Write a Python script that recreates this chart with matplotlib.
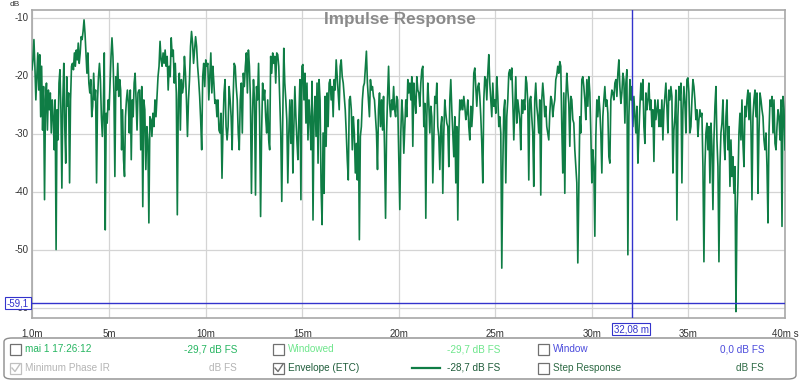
import numpy as np
import matplotlib
matplotlib.use('Agg')
import matplotlib.pyplot as plt
from matplotlib.patches import Rectangle, FancyBboxPatch

plt.rcParams['font.family'] = ['Liberation Sans', 'DejaVu Sans']

# ETC envelope (dB) in six stretches of time (ms)
seg_ms = [(1.00, 6.54), (6.58, 13.26), (13.31, 19.99),
          (20.05, 26.73), (26.78, 33.47), (33.52, 40.00)]

etc_1 = [-18.9, -17.2, -13.7, -18.3, -24.1, -20.1, -16.0, -22.4, -16.3, -27.0,
         -18.3, -29.3, -21.8, -41.3, -24.1, -21.2, -29.3, -22.4, -25.8, -22.9,
         -29.8, -24.1, -27.0, -32.7, -24.1, -49.9, -25.8, -31.0, -21.2, -18.9,
         -25.8, -39.3, -24.1, -17.8, -28.7, -35.0, -20.1, -25.2, -22.9, -38.4,
         -24.1, -18.3, -17.8, -18.9, -16.0, -18.3, -15.5, -17.2, -14.3, -17.8,
         -16.0, -13.2, -13.7, -12.3, -10.3, -12.6, -16.0, -19.5, -16.0, -21.2,
         -22.9, -20.6, -27.0, -25.2, -19.5, -24.1, -22.4, -38.4, -24.1, -20.1,
         -17.8, -20.6, -27.0, -30.4, -25.8, -16.0, -46.5, -26.4, -28.1, -24.1,
         -25.8, -21.2, -16.6, -13.4, -16.6, -22.9, -37.3, -20.1, -22.4, -17.8,
         -23.5, -20.6, -22.4, -32.7, -25.8, -34.4, -37.3, -27.0, -24.1, -22.4,
         -24.7, -29.8, -22.4, -34.4, -24.1, -27.0, -21.2, -19.5, -24.1, -29.3,
         -22.9, -22.4]

etc_2 = [-22.4, -32.7, -21.8, -42.5, -24.1, -25.8, -36.1, -28.7, -31.0, -45.3,
         -27.0, -27.5, -30.4, -26.4, -28.7, -24.1, -27.0, -23.5, -20.1, -18.3,
         -14.0, -17.2, -18.3, -16.0, -17.8, -15.5, -18.3, -16.6, -22.4, -18.3,
         -20.1, -13.4, -16.6, -15.5, -21.2, -17.8, -22.9, -43.9, -24.1, -19.5,
         -29.3, -20.6, -22.9, -21.8, -16.6, -19.5, -24.1, -30.4, -24.1, -20.6,
         -14.9, -12.3, -14.3, -17.8, -15.5, -13.2, -14.9, -18.3, -20.6, -23.5,
         -27.5, -32.7, -20.1, -17.8, -21.8, -17.2, -18.3, -17.8, -24.1, -20.1,
         -16.0, -22.9, -18.3, -21.2, -24.7, -24.1, -27.0, -24.1, -29.3, -29.8,
         -26.4, -37.6, -28.7, -22.9, -20.6, -28.7, -31.0, -28.7, -21.8, -24.1,
         -27.0, -32.7, -23.5, -17.8, -18.3, -21.8, -24.1, -29.8, -32.7, -24.1,
         -21.2, -29.8, -19.5, -21.8, -18.3, -16.0, -22.9, -15.5, -18.3, -24.1,
         -40.2, -27.0, -20.6, -24.1, -40.5, -21.8, -24.1, -17.8, -27.0, -44.2,
         -29.8, -21.2, -24.1, -22.4, -27.0, -29.8, -24.1, -31.0]

etc_3 = [-32.7, -16.6, -19.5, -16.0, -17.8, -16.6, -21.2, -16.0, -16.3, -18.3,
         -24.1, -29.8, -41.6, -27.0, -15.2, -21.2, -24.1, -27.5, -38.4, -29.8,
         -24.1, -31.6, -24.1, -36.7, -28.7, -21.8, -27.0, -31.0, -34.4, -27.0,
         -20.6, -41.3, -18.3, -18.0, -24.1, -19.5, -28.1, -21.2, -31.0, -24.1,
         -27.5, -32.7, -20.9, -44.8, -27.0, -23.5, -30.4, -21.2, -35.0, -20.6,
         -24.1, -39.0, -45.6, -29.8, -40.2, -23.5, -32.1, -22.9, -28.7, -21.2,
         -20.6, -24.1, -21.8, -27.0, -20.6, -22.4, -17.2, -20.1, -22.9, -25.8,
         -18.3, -17.2, -20.1, -21.2, -23.5, -25.8, -29.8, -34.4, -37.9, -24.1,
         -23.5, -25.8, -32.7, -27.0, -29.8, -36.7, -31.6, -37.9, -27.5, -48.2,
         -30.4, -28.7, -24.1, -21.8, -21.2, -18.3, -15.7, -21.2, -24.1, -27.0,
         -20.6, -22.4, -21.8, -23.5, -24.1, -27.0, -29.8, -36.1, -25.8, -22.9,
         -28.7, -24.1, -29.3, -23.5, -32.7, -44.5, -29.8, -23.5, -18.3, -24.7,
         -27.0, -24.1, -25.8, -21.8, -25.8, -27.0, -23.5, -24.1, -33.3]

etc_4 = [-43.0, -29.8, -24.1, -27.0, -33.3, -28.7, -24.1, -27.0, -20.6, -22.9,
         -21.2, -24.1, -20.1, -32.1, -21.2, -24.1, -26.4, -20.1, -22.4, -22.9,
         -25.2, -21.2, -18.9, -18.3, -28.7, -24.7, -44.5, -27.0, -21.2, -24.7,
         -29.8, -25.2, -27.0, -38.4, -31.0, -23.5, -24.7, -21.2, -28.7, -30.4,
         -36.1, -28.7, -27.0, -40.2, -29.8, -24.1, -26.4, -28.1, -28.7, -35.6,
         -24.1, -20.6, -25.8, -29.8, -33.9, -27.0, -38.4, -28.7, -44.8, -29.8,
         -24.1, -25.8, -24.1, -25.8, -23.5, -25.2, -27.5, -26.4, -24.1, -28.7,
         -31.0, -25.2, -28.7, -25.8, -19.5, -18.6, -21.8, -25.2, -21.8, -21.2,
         -23.5, -27.0, -31.6, -38.4, -24.1, -20.1, -20.6, -24.1, -19.5, -16.3,
         -21.2, -24.1, -27.0, -21.2, -25.2, -24.1, -26.4, -20.1, -23.5, -28.7,
         -27.0, -29.8, -53.1, -35.6, -25.8, -24.1, -38.4, -27.0, -24.1, -19.5,
         -18.9, -20.6, -18.6, -24.1, -31.0, -25.8, -20.1, -28.1, -24.1, -25.8,
         -27.5, -32.7, -24.1, -26.4, -24.1, -25.8, -20.1, -21.2, -24.7, -37.9]

etc_5 = [-24.1, -23.5, -27.0, -29.8, -39.0, -24.1, -21.2, -25.2, -27.0, -29.8,
         -24.1, -40.5, -24.1, -21.2, -23.5, -27.0, -25.2, -28.7, -29.8, -31.0,
         -26.4, -23.5, -24.1, -27.0, -25.2, -24.1, -20.6, -19.8, -18.3, -19.5,
         -17.5, -18.3, -28.7, -36.7, -22.9, -40.2, -24.1, -19.5, -22.4, -24.7,
         -32.1, -23.5, -24.1, -27.5, -28.1, -32.7, -35.6, -38.4, -52.2, -40.2,
         -27.0, -29.8, -20.6, -20.1, -21.8, -24.1, -27.5, -20.6, -25.2, -20.1,
         -22.9, -29.8, -38.4, -32.7, -35.6, -47.6, -30.4, -24.1, -27.0, -23.5,
         -25.8, -29.8, -36.7, -27.0, -24.1, -21.8, -25.2, -24.1, -26.4, -33.9,
         -35.0, -24.1, -22.4, -22.9, -24.1, -21.2, -20.6, -23.5, -19.5, -17.2,
         -21.8, -24.7, -22.9, -19.5, -20.6, -28.1, -21.2, -18.9, -50.8, -27.0,
         -20.6, -24.1, -21.8, -28.7, -23.5, -27.0, -29.8, -25.2, -35.0, -29.8,
         -25.2, -21.2, -24.1, -20.6, -28.7, -31.6, -22.9, -25.8, -24.1, -21.2,
         -25.8, -24.1, -28.7, -25.8, -34.7, -24.1, -27.5, -25.8, -24.1, -28.7]

etc_6 = [-25.8, -28.7, -24.1, -31.0, -25.8, -23.5, -21.2, -25.2, -29.8, -22.4,
         -24.1, -21.8, -23.5, -36.7, -29.3, -27.0, -22.4, -44.8, -27.0, -21.8,
         -24.1, -21.2, -38.4, -25.8, -21.8, -24.7, -29.8, -20.6, -20.3, -22.9,
         -29.8, -28.7, -24.1, -20.6, -21.8, -24.1, -27.5, -25.8, -30.4, -27.5,
         -25.8, -27.0, -26.4, -35.6, -52.0, -35.6, -29.8, -28.1, -32.7, -28.7,
         -38.4, -28.1, -32.1, -43.0, -31.0, -25.2, -21.8, -31.0, -35.6, -52.0,
         -35.6, -29.8, -28.1, -24.1, -31.0, -34.4, -27.0, -24.1, -32.7, -28.7,
         -39.0, -31.0, -37.3, -33.9, -40.2, -35.6, -60.6, -44.2, -38.4, -29.8,
         -26.4, -31.0, -24.1, -31.6, -35.6, -25.2, -27.0, -24.1, -22.4, -27.5,
         -22.9, -28.7, -41.3, -27.0, -24.1, -22.4, -27.0, -22.9, -40.2, -29.8,
         -22.9, -24.1, -25.8, -27.0, -31.0, -32.7, -29.8, -35.6, -45.3, -29.8,
         -24.1, -25.2, -23.5, -29.8, -24.1, -31.6, -32.7, -28.7, -25.8, -27.0,
         -31.0, -24.1, -45.9, -23.5, -25.8, -32.7]

x_ticks = [1, 5, 10, 15, 20, 25, 30, 35, 40]
x_tick_labels = ['1,0m', '5m', '10m', '15m', '20m', '25m', '30m', '35m', '40m s']
y_ticks = [-10, -20, -30, -40, -50, -60]
cursor_ms = 32.08
cursor_db = -59.1

W, H = 800, 381
fig = plt.figure(figsize=(W / 100, H / 100), dpi=100)
fig.patch.set_facecolor('white')


def fx(px):
    return px / W


def fy(py):
    return 1 - py / H


ax = fig.add_axes([fx(32), fy(318), fx(785) - fx(32), fy(10) - fy(318)])

segments = [etc_1, etc_2, etc_3, etc_4, etc_5, etc_6]
t_all = np.concatenate([np.linspace(t0, t1, len(s)) for (t0, t1), s in zip(seg_ms, segments)])
db_all = np.concatenate(segments)
ax.plot(t_all, db_all, color='#0f7d45', lw=1.2, zorder=3)

ax.set_xlim(1, 40)
ax.set_ylim(-61.7, -8.6)
ax.set_xticks(x_ticks)
ax.set_xticklabels([])
ax.set_yticks(y_ticks)
ax.set_yticklabels([])
ax.tick_params(length=0)
ax.grid(True, color='#d4d4d4', lw=0.9)
for s in ax.spines.values():
    s.set_color('#a8a8a8')
    s.set_linewidth(1.2)

# tick labels drawn as texts so they sit where the original puts them
for v, lab in zip(x_ticks, x_tick_labels):
    ax.text(v, -0.035, lab, transform=ax.get_xaxis_transform(), ha='center',
            va='top', fontsize=7, color='#333333')
for v in y_ticks:
    ax.text(-0.004, v, str(v), transform=ax.get_yaxis_transform(), ha='right',
            va='center', fontsize=7, color='#333333')
fig.text(fx(15), fy(5), 'dB', ha='center', va='center', fontsize=6, color='#333333')

fig.text(fx(400), fy(12), 'Impulse Response', ha='center', va='top',
         fontsize=12.3, fontweight='bold', color='#8a8a8a')

# cursors
ax.axvline(cursor_ms, color='#3333cc', lw=1.0, zorder=4)
ax.axhline(cursor_db, color='#3333cc', lw=1.0, zorder=4)
fig.text(fx(18), fy(303), '-59,1', ha='center', va='center', fontsize=7,
         color='#3333cc',
         bbox=dict(boxstyle='square,pad=0.15', fc='white', ec='#3333cc', lw=0.8))
fig.text(fx(631), fy(329), '32,08 m', ha='center', va='center', fontsize=7,
         color='#3333cc',
         bbox=dict(boxstyle='square,pad=0.15', fc='white', ec='#3333cc', lw=0.8))

# bottom legend panel
panel = FancyBboxPatch((fx(4), fy(379)), fx(792), fy(338) - fy(379),
                       boxstyle='round,pad=0,rounding_size=0.01',
                       transform=fig.transFigure, fc='white', ec='#8c8c8c', lw=1.0)
fig.patches.append(panel)

rows = [349, 368]
entries = [
    (10, 0, False, 'mai 1 17:26:12', '#25b560', '-29,7 dB FS', '#25b560', 237),
    (10, 1, True, 'Minimum Phase IR', '#b4b4b4', 'dB FS', '#b4b4b4', 237),
    (273, 0, False, 'Windowed', '#6ee68c', '-29,7 dB FS', '#6ee68c', 500),
    (273, 1, True, 'Envelope (ETC)', '#1f5c3a', '-28,7 dB FS', '#1f5c3a', 500),
    (538, 0, False, 'Window', '#4b4bdc', '0,0 dB FS', '#4b4bdc', 764),
    (538, 1, False, 'Step Response', '#2d6a44', 'dB FS', '#2d6a44', 764),
]
for x0, r, checked, name, c_name, val, c_val, xr in entries:
    yc = rows[r]
    box_col = '#c0c0c0' if name == 'Minimum Phase IR' else '#707070'
    fig.patches.append(Rectangle((fx(x0), fy(yc + 5.5)), fx(11), fy(0) - fy(11),
                                 transform=fig.transFigure, fc='white',
                                 ec=box_col, lw=0.9))
    if checked:
        fig.lines.append(plt.Line2D([fx(x0 + 2), fx(x0 + 5), fx(x0 + 10)],
                                    [fy(yc), fy(yc + 3.5), fy(yc - 4)],
                                    transform=fig.transFigure, color=box_col, lw=1.0))
    fig.text(fx(x0 + 15), fy(yc), name, ha='left', va='center', fontsize=7.2,
             color=c_name)
    fig.text(fx(xr), fy(yc), val, ha='right', va='center', fontsize=7.2,
             color=c_val)

fig.lines.append(plt.Line2D([fx(412), fx(440)], [fy(368), fy(368)],
                            transform=fig.transFigure, color='#0f7d45', lw=1.6))

fig.savefig('out.png', dpi=100)
